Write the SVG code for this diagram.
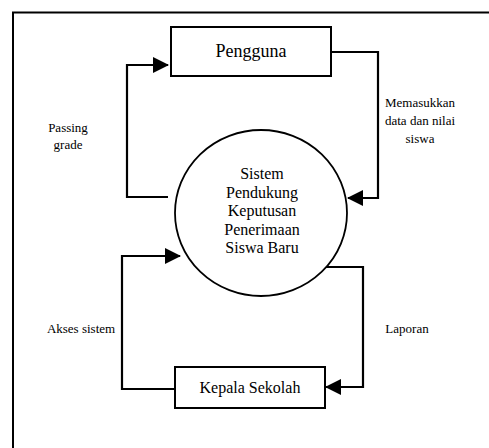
<svg xmlns="http://www.w3.org/2000/svg" width="489" height="448" viewBox="0 0 489 448">
<style>
.frame{fill:none;stroke:#000;stroke-width:2}
.box{fill:#fff;stroke:#000;stroke-width:2}
.proc{fill:#fff;stroke:#000;stroke-width:1.8}
.conn{fill:none;stroke:#000;stroke-width:2.2}
text{font-family:'Liberation Serif','Times New Roman',serif;fill:#000;text-anchor:middle}
.lbl{font-size:13px}
</style>
<defs>
<marker id="ah" viewBox="0 0 16 16" refX="15" refY="8" markerWidth="16" markerHeight="16" markerUnits="userSpaceOnUse" orient="auto">
<path d="M0,0 L16,8 L0,16 Z" fill="#000"/>
</marker>
</defs>
<rect width="489" height="448" fill="#fff"/>
<path class="frame" d="M13,448 L13,12.5 L489,12.5"/>
<g id="connectors">
<path class="conn" d="M168,197 L127,197 L127,65 L168,65" marker-end="url(#ah)"/>
<path class="conn" d="M332,52 L378,52 L378,198 L348,198" marker-end="url(#ah)"/>
<path class="conn" d="M175,389 L122,389 L122,256 L180,256" marker-end="url(#ah)"/>
<path class="conn" d="M325,267 L363,267 L363,387 L326,387" marker-end="url(#ah)"/>
</g>
<g id="pengguna">
<rect class="box" x="171" y="27" width="160" height="49"/>
<text x="251" y="57" font-size="18">Pengguna</text>
</g>
<g id="sistem">
<ellipse class="proc" cx="261" cy="213" rx="86" ry="83"/>
<text font-size="16"><tspan x="262" y="179">Sistem</tspan><tspan x="262" y="197.5">Pendukung</tspan><tspan x="262" y="216">Keputusan</tspan><tspan x="262" y="234.5">Penerimaan</tspan><tspan x="262" y="253">Siswa Baru</tspan></text>
</g>
<g id="kepala-sekolah">
<rect class="box" x="175" y="367" width="150" height="41"/>
<text x="250" y="393" font-size="16">Kepala Sekolah</text>
</g>
<g id="labels">
<text class="lbl"><tspan x="68" y="132">Passing</tspan><tspan x="68" y="149">grade</tspan></text>
<text class="lbl"><tspan x="420" y="107">Memasukkan</tspan><tspan x="420" y="125">data dan nilai</tspan><tspan x="420" y="143">siswa</tspan></text>
<text class="lbl" x="81" y="333">Akses sistem</text>
<text class="lbl" x="407" y="333">Laporan</text>
</g>
</svg>
